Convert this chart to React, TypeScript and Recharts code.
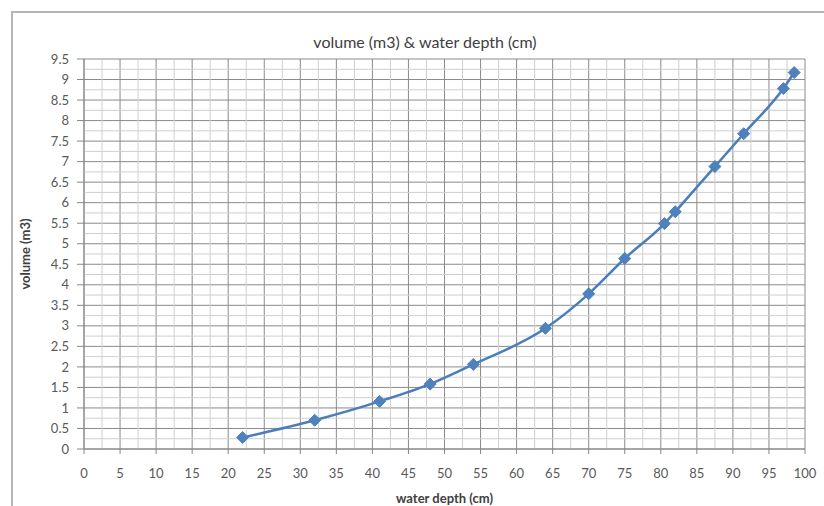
import { LineChart, Line, XAxis, YAxis, CartesianGrid, ReferenceLine } from "recharts";

const depth = [22, 32, 41, 48, 54, 64, 70, 75, 80.5, 82, 87.5, 91.5, 97, 98.5];
const volume = [0.28, 0.7, 1.16, 1.58, 2.06, 2.94, 3.78, 4.64, 5.49, 5.78, 6.88, 7.68, 8.78, 9.17];

const xTicks = [0, 5, 10, 15, 20, 25, 30, 35, 40, 45, 50, 55, 60, 65, 70, 75, 80, 85, 90, 95, 100];
const yTicks = [0, 0.5, 1, 1.5, 2, 2.5, 3, 3.5, 4, 4.5, 5, 5.5, 6, 6.5, 7, 7.5, 8, 8.5, 9, 9.5];
const xMinor = [2.5, 7.5, 12.5, 17.5, 22.5, 27.5, 32.5, 37.5, 42.5, 47.5, 52.5, 57.5, 62.5, 67.5, 72.5, 77.5, 82.5, 87.5, 92.5, 97.5];
const yMinor = [0.25, 0.75, 1.25, 1.75, 2.25, 2.75, 3.25, 3.75, 4.25, 4.75, 5.25, 5.75, 6.25, 6.75, 7.25, 7.75, 8.25, 8.75, 9.25];

const data = depth.map((d, i) => ({ depth: d, volume: volume[i] }));

const font = "Lato, 'Open Sans', sans-serif";
const tickStyle = { fontSize: 13, fill: "#595959", fontFamily: font };

const Diamond = (props: any) => {
  const { cx, cy } = props;
  if (cx == null || cy == null) return null;
  const r = 6;
  return (
    <polygon
      points={`${cx},${cy - r} ${cx + r},${cy} ${cx},${cy + r} ${cx - r},${cy}`}
      fill="#4F81BD"
      stroke="#4F81BD"
    />
  );
};

export default function App() {
  return (
    <div style={{ position: "absolute", left: 0, top: 0, width: 824, height: 506, background: "#fff", overflow: "hidden" }}>
      <div
        style={{
          position: "absolute",
          left: 11,
          top: 11,
          width: 840,
          height: 520,
          border: "2px solid #b5b5b5",
        }}
      />
      <div
        style={{
          position: "absolute",
          left: 0,
          width: 850,
          top: 32,
          textAlign: "center",
          fontFamily: font,
          fontSize: 16,
          color: "#404040",
        }}
      >
        volume (m3) &amp; water depth (cm)
      </div>
      <div style={{ position: "absolute", left: 0, top: 0 }}>
        <LineChart width={824} height={506} data={data} margin={{ top: 59, right: 19, left: 44, bottom: 27 }}>
          {xMinor.map((v) => (
            <ReferenceLine key={"x" + v} x={v} stroke="#cfcfcf" strokeWidth={1} />
          ))}
          {yMinor.map((v) => (
            <ReferenceLine key={"y" + v} y={v} stroke="#cfcfcf" strokeWidth={1} />
          ))}
          <CartesianGrid stroke="#8a8a8a" strokeWidth={1} />
          <XAxis
            type="number"
            dataKey="depth"
            domain={[0, 100]}
            ticks={xTicks}
            interval={0}
            height={30}
            tickSize={5}
            tickMargin={15}
            stroke="#868686"
            tick={tickStyle}
            label={{
              value: "water depth (cm)",
              position: "insideBottom",
              offset: -24,
              style: { fontSize: 13, fontWeight: 700, fill: "#404040", fontFamily: font },
            }}
          />
          <YAxis
            type="number"
            domain={[0, 9.5]}
            ticks={yTicks}
            interval={0}
            width={40}
            tickSize={7}
            tickMargin={8}
            stroke="#868686"
            tick={tickStyle}
            label={{
              value: "volume (m3)",
              angle: -90,
              position: "insideLeft",
              offset: -19,
              style: { fontSize: 13, fontWeight: 700, fill: "#404040", fontFamily: font, textAnchor: "middle" },
            }}
          />
          <Line
            type="monotone"
            dataKey="volume"
            stroke="#4A7EBB"
            strokeWidth={2.5}
            dot={<Diamond />}
            isAnimationActive={false}
          />
        </LineChart>
      </div>
    </div>
  );
}
